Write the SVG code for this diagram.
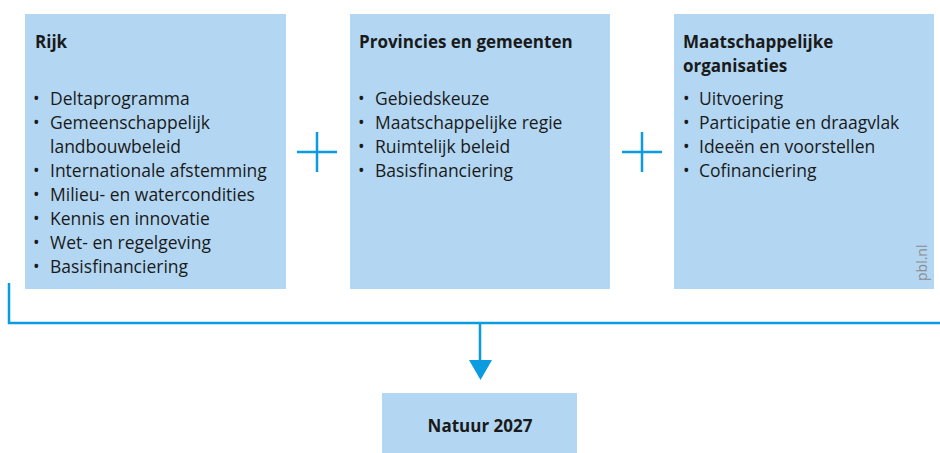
<svg xmlns="http://www.w3.org/2000/svg" width="940" height="453" viewBox="0 0 940 453">
<style>
.box{fill:#b3d7f3}
.t{font-family:"Open Sans","Noto Sans",sans-serif;font-size:17.5px;fill:#1a1a1a}
.h{font-family:"Open Sans","Noto Sans",sans-serif;font-size:17px;font-weight:bold;fill:#1a1a1a}
.ln{stroke:#0a9be0;stroke-width:2.5;fill:none}
</style>
<rect width="940" height="453" fill="#ffffff"/>
<g id="rijk">
<rect class="box" x="25" y="14" width="261" height="275"/>
<text class="h" x="35" y="48">Rijk</text>
<text class="t"><tspan x="33" y="105">•</tspan><tspan x="50" y="105">Deltaprogramma</tspan>
<tspan x="33" y="129">•</tspan><tspan x="50" y="129">Gemeenschappelijk</tspan>
<tspan x="50" y="153">landbouwbeleid</tspan>
<tspan x="33" y="177">•</tspan><tspan x="50" y="177">Internationale afstemming</tspan>
<tspan x="33" y="201">•</tspan><tspan x="50" y="201">Milieu- en watercondities</tspan>
<tspan x="33" y="225">•</tspan><tspan x="50" y="225">Kennis en innovatie</tspan>
<tspan x="33" y="249">•</tspan><tspan x="50" y="249">Wet- en regelgeving</tspan>
<tspan x="33" y="273">•</tspan><tspan x="50" y="273">Basisfinanciering</tspan></text>
</g>
<g id="provincies">
<rect class="box" x="350" y="14" width="260" height="275"/>
<text class="h" x="359" y="48">Provincies en gemeenten</text>
<text class="t"><tspan x="358" y="105">•</tspan><tspan x="375" y="105">Gebiedskeuze</tspan>
<tspan x="358" y="129">•</tspan><tspan x="375" y="129">Maatschappelijke regie</tspan>
<tspan x="358" y="153">•</tspan><tspan x="375" y="153">Ruimtelijk beleid</tspan>
<tspan x="358" y="177">•</tspan><tspan x="375" y="177">Basisfinanciering</tspan></text>
</g>
<g id="maatschappelijk">
<rect class="box" x="674" y="14" width="260" height="275"/>
<text class="h"><tspan x="683" y="48">Maatschappelijke</tspan><tspan x="683" y="72">organisaties</tspan></text>
<text class="t"><tspan x="683" y="105">•</tspan><tspan x="699" y="105">Uitvoering</tspan>
<tspan x="683" y="129">•</tspan><tspan x="699" y="129">Participatie en draagvlak</tspan>
<tspan x="683" y="153">•</tspan><tspan x="699" y="153">Ideeën en voorstellen</tspan>
<tspan x="683" y="177">•</tspan><tspan x="699" y="177">Cofinanciering</tspan></text>
<text transform="translate(927,281) rotate(-90)" font-family="'Open Sans','Noto Sans',sans-serif" font-size="14" fill="#8c8c8c">pbl.nl</text>
</g>
<g id="natuur">
<rect class="box" x="382" y="393" width="195" height="60"/>
<text class="h" x="480" y="432" text-anchor="middle">Natuur 2027</text>
</g>
<g id="connectors">
<path class="ln" d="M297 152H337M317 132V172"/>
<path class="ln" d="M622 152H662M642 132V172"/>
<path class="ln" d="M9 283V323H940"/>
<path class="ln" d="M480 323V362"/>
<polygon points="469,360 492,360 480.5,380" fill="#0a9be0"/>
</g>
</svg>
